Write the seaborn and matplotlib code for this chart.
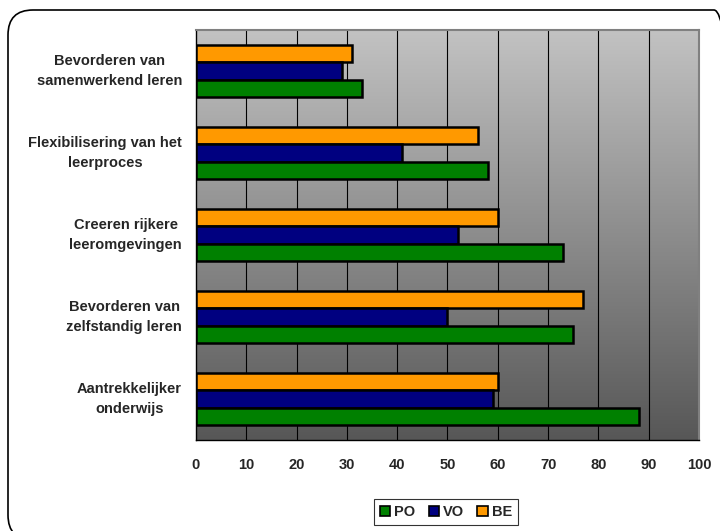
import numpy as np
import pandas as pd
import matplotlib
matplotlib.use("Agg")
import matplotlib.pyplot as plt
import seaborn as sns
from matplotlib.patches import FancyBboxPatch, Patch
from matplotlib.colors import LinearSegmentedColormap
from matplotlib.transforms import IdentityTransform

categories = [
    "Bevorderen van\nsamenwerkend leren",
    "Flexibilisering van het\nleerproces",
    "Creeren rijkere\nleeromgevingen",
    "Bevorderen van\nzelfstandig leren",
    "Aantrekkelijker\nonderwijs",
]
series = ["PO", "VO", "BE"]
po = [33, 58, 73, 75, 88]
vo = [29, 41, 52, 50, 59]
be = [31, 56, 60, 77, 60]
colors = {"PO": "#008000", "VO": "#000080", "BE": "#FF9900"}
xticks = list(range(0, 101, 10))

rows = []
for s, vals in zip(series, [po, vo, be]):
    for c, v in zip(categories, vals):
        rows.append({"cat": c, "serie": s, "val": v})
df = pd.DataFrame(rows)

sns.set_style("white")
plt.rcParams["font.family"] = ["Liberation Sans", "DejaVu Sans"]
plt.rcParams["font.weight"] = "bold"

fig = plt.figure(figsize=(7.2, 5.31), dpi=100)
ax = fig.add_axes([196 / 720, 1 - 440 / 531, (699 - 196) / 720, (440 - 30) / 531])

# gradient background
cmap = LinearSegmentedColormap.from_list("bg", ["#C2C2C2", "#575757"])
grad = np.linspace(0, 1, 256).reshape(-1, 1)
ax.imshow(grad, cmap=cmap, aspect="auto", extent=[0, 1, 0, 1],
          transform=ax.transAxes, zorder=0, origin="upper")

sns.barplot(data=df, y="cat", x="val", hue="serie", hue_order=["BE", "VO", "PO"],
            order=categories, palette=colors, orient="h", ax=ax,
            width=0.64, edgecolor="black", linewidth=1.8, legend=False,
            zorder=3, saturation=1)

ax.set_xlim(0, 100)
ax.set_ylim(4.5, -0.5)
ax.set_xticks(xticks)
ax.set_xticklabels([str(t) for t in xticks], fontsize=10.5, fontweight="bold")
ax.set_yticks(range(len(categories)))
ax.set_yticklabels(categories, fontsize=10.5, fontweight="bold",
                   multialignment="center", linespacing=1.6, va="center")
ax.set_yticks(np.arange(-0.5, 5.0, 1.0), minor=True)
ax.tick_params(axis="y", which="major", length=0, pad=10)
ax.tick_params(axis="y", which="minor", length=4, width=1, direction="out", color="black")
ax.tick_params(axis="x", which="major", length=4, width=1, direction="out", color="black", pad=9)
ax.set_xlabel("")
ax.set_ylabel("")
for x in xticks[1:-1]:
    ax.axvline(x, color="black", lw=0.8, zorder=1)
for side in ["top", "right"]:
    ax.spines[side].set_color("#808080")
    ax.spines[side].set_linewidth(1.5)
for side in ["left", "bottom"]:
    ax.spines[side].set_color("black")
    ax.spines[side].set_linewidth(1.0)

handles = [Patch(facecolor=colors[s], edgecolor="black", linewidth=1.2, label=s) for s in series]
leg = fig.legend(handles=handles, loc="center", bbox_to_anchor=(446 / 720, 1 - 512 / 531),
                 ncol=3, frameon=True, fancybox=False, edgecolor="black",
                 prop={"size": 10.5, "weight": "bold"}, handlelength=0.7, handleheight=0.7,
                 handletextpad=0.3, columnspacing=0.9, borderpad=0.4)
leg.get_frame().set_linewidth(0.8)

# rounded outer border (pixel coordinates, bottom-left origin)
border = FancyBboxPatch((8, 531 - 540), 739 - 8, 540 - 10,
                        boxstyle="round,pad=0,rounding_size=25",
                        transform=IdentityTransform(), facecolor="none",
                        edgecolor="black", linewidth=1.2, clip_on=False)
fig.patches.append(border)

fig.savefig("out.png", dpi=100)
